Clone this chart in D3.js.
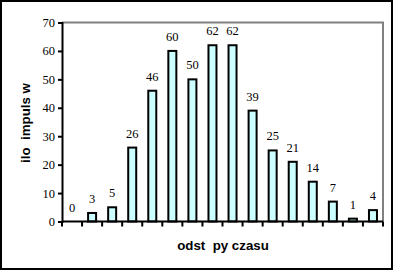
<!DOCTYPE html>
<html><head><meta charset="utf-8">
<script src="https://cdn.jsdelivr.net/npm/d3@7"></script>
<style>body{margin:0;background:#fff}svg{display:block}</style>
</head><body>
<script>
const categories = d3.range(1, 17).map(String);
const values = [0, 3, 5, 26, 46, 60, 50, 62, 62, 39, 25, 21, 14, 7, 1, 4];
const yTicks = [0, 10, 20, 30, 40, 50, 60, 70];
const yTitle = "ilo  impuls w";
const xTitle = "odst  py czasu";

const W = 395, H = 272;
const svg = d3.select("body").append("svg").attr("width", W).attr("height", H);
svg.append("rect").attr("x", 1).attr("y", 1).attr("width", 391).attr("height", 268)
  .attr("fill", "#fff").attr("stroke", "#000").attr("stroke-width", 2);

const L = 62, R = 383, T = 22.5, B = 221.5;
const x = d3.scaleBand().domain(categories).range([L, R]);
const y = d3.scaleLinear().domain([0, 70]).range([B, T]);

svg.append("path").attr("d", `M${L},${T}H${R}V${B}`).attr("fill", "none")
  .attr("stroke", "#808080").attr("stroke-width", 2);

const bw = 8;
svg.append("g").selectAll("rect").data(values).join("rect")
  .attr("x", (d, i) => x(categories[i]) + x.bandwidth() / 2 - bw / 2)
  .attr("y", d => y(d))
  .attr("width", bw)
  .attr("height", d => B - y(d))
  .attr("fill", "#CCFFFF").attr("stroke", "#000").attr("stroke-width", 2);

svg.append("g").selectAll("text").data(values).join("text")
  .attr("x", (d, i) => x(categories[i]) + x.bandwidth() / 2)
  .attr("y", d => y(d) - 10)
  .attr("text-anchor", "middle")
  .attr("font-family", "Liberation Serif").attr("font-size", 12.5)
  .text(d => d);

const ya = svg.append("g").attr("transform", `translate(${L},0)`)
  .call(d3.axisLeft(y).tickValues(yTicks).tickSize(4).tickPadding(3));
ya.select(".domain").attr("stroke-width", 2);
ya.selectAll(".tick line").attr("stroke-width", 2);
ya.selectAll("text").attr("font-family", "Liberation Serif").attr("font-size", 12.5).attr("fill", "#000");

const bounds = categories.map(c => x(c)).concat([R]);
svg.append("path").attr("d", `M${L},${B}H${R}`).attr("stroke", "#000").attr("stroke-width", 2);
svg.append("g").selectAll("line").data(bounds).join("line")
  .attr("x1", d => d).attr("x2", d => d).attr("y1", B).attr("y2", B + 5)
  .attr("stroke", "#000").attr("stroke-width", 2);

svg.append("text").attr("x", 223).attr("y", 249.5).attr("text-anchor", "middle")
  .attr("font-family", "Liberation Sans").attr("font-weight", "bold").attr("font-size", 13.3)
  .style("white-space", "pre").text(xTitle);
svg.append("text").attr("transform", "translate(29.5,123) rotate(-90)").attr("text-anchor", "middle")
  .attr("font-family", "Liberation Sans").attr("font-weight", "bold").attr("font-size", 13.3)
  .style("white-space", "pre").text(yTitle);
</script>
</body></html>
